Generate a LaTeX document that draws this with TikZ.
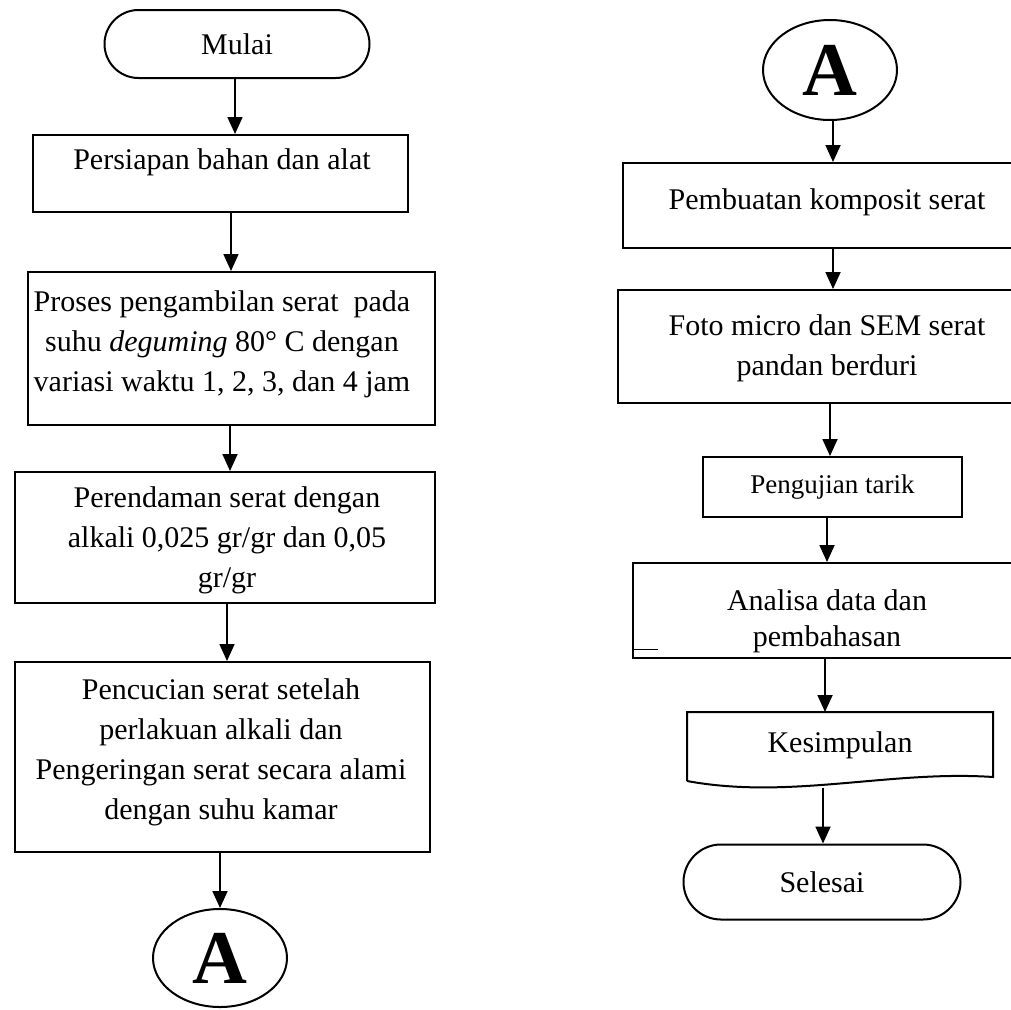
\documentclass[tikz,border=0pt]{standalone}
\usepackage{fontspec}
\setmainfont{Liberation Serif}
\usetikzlibrary{shapes.misc,shapes.geometric,arrows.meta}
\tikzset{
  boxline/.style={draw, line width=2pt},
  procbox/.style={boxline, rectangle, inner sep=0pt},
  term/.style={boxline, rounded rectangle, inner sep=0pt},
  conn/.style={boxline, ellipse, inner sep=0pt, font=\fontsize{76}{76}\selectfont\bfseries},
  txt/.style={align=center, inner sep=0pt, font=\fontsize{30}{40}\selectfont},
  arr/.style={line width=1.8pt, -{Triangle[width=15pt,length=17pt]}}
}
\begin{document}
\begin{tikzpicture}[x=1pt,y=-1pt]
\useasboundingbox (0,0) rectangle (1011,1009);
% ---------- left column ----------
\node[term, minimum width=265pt, minimum height=68pt, txt] (mulai) at (237,44) {Mulai};
\node[procbox, minimum width=375pt, minimum height=77pt] (b1) at (220.5,173.5) {};
\node[txt] (t1) at (222,162) {Persiapan bahan dan alat};
\node[procbox, minimum width=407pt, minimum height=153pt] (b2) at (231.5,348.5) {};
\node[txt] (t2) at (222,344) {Proses pengambilan serat\ \ pada\\ suhu \textit{deguming} 80° C dengan\\ variasi waktu 1, 2, 3, dan 4 jam};
\node[procbox, minimum width=420pt, minimum height=131pt] (b3) at (225,537.5) {};
\node[txt] (t3) at (227,540) {Perendaman serat dengan\\ alkali 0,025 gr/gr dan 0,05\\ gr/gr};
\node[procbox, minimum width=415pt, minimum height=190pt] (b4) at (222.5,757) {};
\node[txt] (t4) at (221,752) {Pencucian serat setelah\\ perlakuan alkali dan\\ Pengeringan serat secara alami\\ dengan suhu kamar};
\node[conn, minimum width=134pt, minimum height=98pt] (aL) at (220,958) {A};
\coordinate (x1) at (235,0);
\coordinate (x2) at (231,0);
\coordinate (x3) at (230,0);
\coordinate (x4) at (227,0);
\coordinate (x5) at (220,0);
\draw[arr] (mulai.south -| x1) -- (b1.north -| x1);
\draw[arr] (b1.south -| x2) -- (b2.north -| x2);
\draw[arr] (b2.south -| x3) -- (b3.north -| x3);
\draw[arr] (b3.south -| x4) -- (b4.north -| x4);
\draw[arr] (b4.south -| x5) -- (aL.north);
% ---------- right column ----------
\node[conn, minimum width=134pt, minimum height=100pt] (aR) at (830,70) {A};
\node[procbox, minimum width=408pt, minimum height=85pt] (r1) at (827,205.5) {};
\node[txt] (s1) at (827,202) {Pembuatan komposit serat};
\node[procbox, minimum width=413pt, minimum height=113pt] (r2) at (824.5,346.5) {};
\node[txt] (s2) at (827,348) {Foto micro dan SEM serat\\ pandan berduri};
\node[procbox, minimum width=259pt, minimum height=60pt, txt, font=\fontsize{27}{30}\selectfont] (r3) at (832.5,487) {Pengujian tarik};
\node[procbox, minimum width=392pt, minimum height=95pt] (r4) at (829,610.5) {};
\node[txt, font=\fontsize{30}{36}\selectfont] (s4) at (827,621) {Analisa data dan\\ pembahasan};
\draw[line width=1pt] (r4.south west) ++(2,-10) -- ++(24,0);
\node[txt] (s5) at (840,745) {Kesimpulan};
\coordinate (kb) at (823,787.5);
\draw[boxline, line join=miter] (687,781) -- (687,712) -- (993,712) -- (993,777)
   .. controls (890,770) and (790,800) .. (687,781);
\coordinate (ktop) at (825,712);
\node[term, minimum width=277pt, minimum height=75pt, txt] (selesai) at (822,882) {Selesai};
\coordinate (y1) at (833,0);
\coordinate (y2) at (833,0);
\coordinate (y3) at (830,0);
\coordinate (y4) at (827,0);
\draw[arr] (aR.south -| y1) -- (r1.north -| y1);
\draw[arr] (r1.south -| y2) -- (r2.north -| y2);
\draw[arr] (r2.south -| y3) -- (r3.north -| y3);
\draw[arr] (r3.south -| y4) -- (r4.north -| y4);
\draw[arr] (r4.south -| ktop) -- (ktop);
\draw[arr] (kb) -- (selesai.north -| kb);
\end{tikzpicture}
\end{document}
